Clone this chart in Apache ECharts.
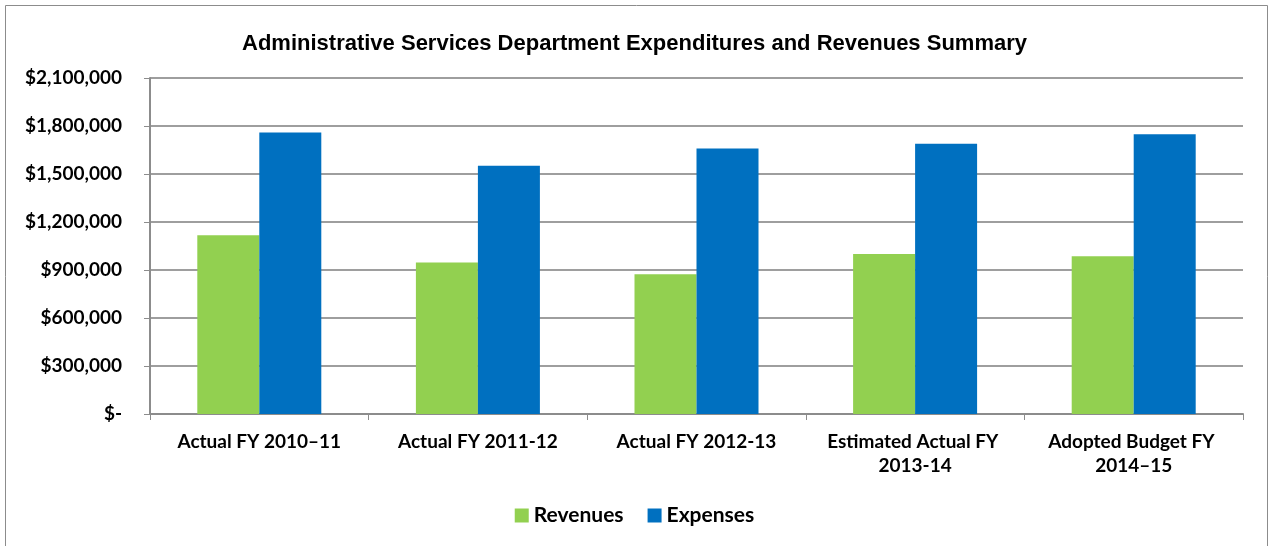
<!DOCTYPE html>
<html>
<head>
<meta charset="utf-8">
<script src="https://cdn.jsdelivr.net/npm/echarts@6/dist/echarts.min.js"></script>
<style>
  html, body { margin: 0; padding: 0; background: #ffffff; }
  #chart { width: 1269px; height: 546px; }
</style>
</head>
<body>
<div id="chart"></div>
<script>
// Fiscal years shown along the category axis
const categories = [
  'Actual FY 2010\u201311',
  'Actual FY 2011-12',
  'Actual FY 2012-13',
  'Estimated Actual FY 2013-14',
  'Adopted Budget FY 2014\u201315'
];
// Dollar amounts per fiscal year
const revenues = [1117000, 947000, 874000, 1000000, 986000];
const expenses = [1760000, 1552000, 1660000, 1689000, 1748000];
// Value axis ticks
const yTicks = [0, 300000, 600000, 900000, 1200000, 1500000, 1800000, 2100000];

const labelFont = 'Lato, "Open Sans", sans-serif';

function money(v) {
  if (v === 0) return '$-';
  return '$' + v.toLocaleString('en-US');
}

const chart = echarts.init(document.getElementById('chart'), null, { renderer: 'canvas' });

chart.setOption({
  animation: false,
  backgroundColor: '#ffffff',
  graphic: [{
    type: 'rect',
    left: 3, top: 3,
    shape: { width: 1262, height: 560 },
    style: { fill: 'none', stroke: '#8c8c8c', lineWidth: 1 },
    silent: true
  }],
  title: {
    text: 'Administrative Services Department Expenditures and Revenues Summary',
    left: 'center',
    top: 28,
    textStyle: {
      fontFamily: '"Liberation Sans", Arial, sans-serif',
      fontWeight: 'bold',
      fontSize: 22,
      color: '#000000'
    }
  },
  legend: {
    bottom: 15,
    left: 'center',
    itemWidth: 14,
    itemHeight: 14,
    itemGap: 24,
    icon: 'rect',
    textStyle: {
      fontFamily: labelFont,
      fontWeight: 'bold',
      fontSize: 21,
      color: '#000000',
      padding: [0, 0, 0, 0]
    },
    data: ['Revenues', 'Expenses']
  },
  grid: {
    left: 150,
    right: 26,
    top: 78,
    bottom: 132,
    containLabel: false
  },
  xAxis: {
    type: 'category',
    data: categories,
    boundaryGap: true,
    axisLine: { show: true, lineStyle: { color: '#8c8c8c', width: 2 } },
    axisTick: { show: true, length: 6, alignWithLabel: false, lineStyle: { color: '#8c8c8c', width: 1 } },
    axisLabel: {
      interval: 0,
      margin: 16,
      width: 205,
      overflow: 'break',
      lineHeight: 24,
      fontFamily: labelFont,
      fontWeight: 'bold',
      fontSize: 19,
      color: '#000000'
    }
  },
  yAxis: {
    type: 'value',
    min: yTicks[0],
    max: yTicks[yTicks.length - 1],
    interval: yTicks[1] - yTicks[0],
    axisLine: { show: true, lineStyle: { color: '#8c8c8c', width: 2 } },
    axisTick: { show: true, length: 6, inside: false, lineStyle: { color: '#8c8c8c', width: 1 } },
    splitLine: { show: true, lineStyle: { color: '#9e9e9e', width: 2 } },
    axisLabel: {
      margin: 28,
      fontFamily: labelFont,
      fontWeight: 'bold',
      fontSize: 19,
      color: '#000000',
      formatter: money
    }
  },
  series: [
    {
      name: 'Revenues',
      type: 'bar',
      data: revenues,
      barWidth: 62,
      barGap: '0%',
      itemStyle: { color: '#92d050' }
    },
    {
      name: 'Expenses',
      type: 'bar',
      data: expenses,
      barWidth: 62,
      barGap: '0%',
      itemStyle: { color: '#0070c0' }
    }
  ]
});
</script>
</body>
</html>
